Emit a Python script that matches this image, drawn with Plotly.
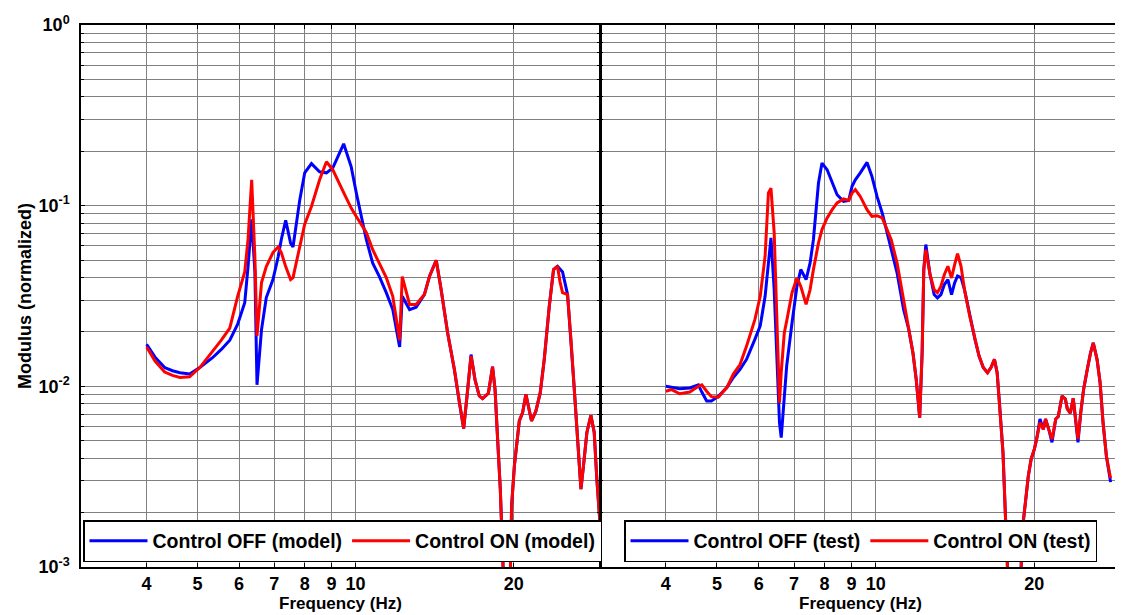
import plotly.graph_objects as go

# ---------------- data ----------------
# Left panel: model
freq_model = [4.0, 4.15, 4.33, 4.48, 4.63, 4.83, 5.05, 5.34, 5.55, 5.76, 5.96, 6.15, 6.24, 6.34,
              6.43, 6.49, 6.62, 6.76, 6.96, 7.12, 7.22, 7.36, 7.52, 7.60, 7.83, 8.0, 8.24,
              8.54, 8.80, 9.05, 9.49, 9.81, 10.03, 10.25, 10.48, 10.78, 11.1, 11.44, 11.77,
              12.13, 12.27, 12.67, 13.04, 13.52, 13.83, 14.24, 14.55, 14.97, 15.42, 15.76,
              16.06, 16.3, 16.59, 16.88, 17.2, 17.45, 17.9, 18.23, 18.43, 18.64, 18.86, 19.05,
              19.3, 19.6, 19.82, 20.06, 20.5, 20.8, 21.1, 21.63, 22.05, 22.47, 22.87, 23.38,
              23.82, 24.24, 24.5, 24.78, 25.33, 25.71, 26.09, 26.47, 26.86, 27.16, 27.57, 28.06,
              28.47, 28.8, 29.1, 29.6]
off_model = [0.0171, 0.0145, 0.0127, 0.0122, 0.0119, 0.0117, 0.0127, 0.0144, 0.0160, 0.0180,
             0.0220, 0.0290, 0.0460, 0.0840, 0.0430, 0.0102, 0.0206, 0.0310, 0.0390, 0.0520,
             0.0650, 0.0830, 0.0620, 0.0590, 0.1080, 0.1520, 0.1710, 0.1540, 0.1520, 0.1620,
             0.2200, 0.1640, 0.1180, 0.0870, 0.0650, 0.0480, 0.0405, 0.0330, 0.0266, 0.0165,
             0.0315, 0.0266, 0.0274, 0.0322, 0.0407, 0.0499, 0.0344, 0.0198, 0.0124, 0.00813,
             0.00584, 0.00884, 0.0150, 0.0109, 0.00884, 0.00855, 0.00915, 0.01285, 0.00962,
             0.0051, 0.0027, 0.0012, 0.0004, 0.0004, 0.00218, 0.00363, 0.00643, 0.00716,
             0.00903, 0.00643, 0.00731, 0.00923, 0.0141, 0.0278, 0.0443, 0.0462, 0.0443, 0.0430,
             0.0322, 0.0182, 0.00962, 0.0051, 0.0027, 0.00363, 0.00555, 0.00692, 0.00555,
             0.00306, 0.0020, 0.0010]
on_model = [0.0165, 0.0138, 0.0120, 0.0115, 0.0112, 0.0113, 0.0127, 0.0155, 0.0180, 0.0210,
            0.0314, 0.0430, 0.0650, 0.1390, 0.0520, 0.0190, 0.0375, 0.0460, 0.0550, 0.0590,
            0.0550, 0.0460, 0.0390, 0.0400, 0.0590, 0.0790, 0.0990, 0.1390, 0.1750, 0.1580,
            0.1180, 0.0970, 0.0870, 0.0790, 0.0710, 0.0570, 0.0480, 0.0400, 0.0315, 0.0180,
            0.0405, 0.0284, 0.0284, 0.0322, 0.0407, 0.0499, 0.0344, 0.0198, 0.0124, 0.00813,
            0.00584, 0.00884, 0.0147, 0.0109, 0.00884, 0.00855, 0.00915, 0.01285, 0.00962,
            0.0051, 0.0027, 0.0012, 0.0004, 0.0004, 0.00218, 0.00363, 0.00643, 0.00716,
            0.00903, 0.00643, 0.00731, 0.00923, 0.0141, 0.0278, 0.0443, 0.0462, 0.0380, 0.0330,
            0.0322, 0.0182, 0.00962, 0.0051, 0.0027, 0.00363, 0.00555, 0.00692, 0.00555,
            0.00306, 0.0020, 0.0010]

# Right panel: test
freq_test = [4.0, 4.1, 4.25, 4.44, 4.61, 4.68, 4.78, 4.88, 5.03, 5.22, 5.37, 5.53, 5.69, 5.90,
             6.04, 6.17, 6.26, 6.33, 6.42, 6.51, 6.57, 6.62, 6.71, 6.78, 6.94, 7.09, 7.21,
             7.38, 7.51, 7.62, 7.79, 7.91, 8.09, 8.27, 8.45, 8.69, 8.89, 9.02, 9.15, 9.35,
             9.63, 9.84, 10.06, 10.29, 10.51, 10.7, 10.98, 11.3, 11.55, 11.77, 11.94, 12.12,
             12.25, 12.34, 12.45, 12.68, 12.91, 13.1, 13.3, 13.5, 13.71, 13.93, 14.12, 14.3,
             14.52, 14.74, 15.08, 15.43, 15.71, 16.0, 16.3, 16.55, 16.8, 17.0, 17.18, 17.44,
             17.63, 17.78, 18.0, 18.7, 18.9, 19.08, 19.28, 19.48, 19.72, 20.0, 20.2, 20.5,
             20.8, 21.0, 21.3, 21.6, 21.96, 22.2, 22.57, 22.9, 23.1, 23.4, 23.7, 23.97, 24.2,
             24.5, 24.8, 25.2, 25.56, 25.87, 26.3, 26.65, 27.0, 27.4, 27.8, 27.9]
off_test = [0.0100, 0.0099, 0.0097, 0.0098, 0.0102, 0.0093, 0.0083, 0.0083, 0.0088, 0.00984,
            0.0112, 0.0124, 0.0141, 0.0182, 0.0216, 0.0315, 0.0503, 0.0663, 0.0343, 0.0119,
            0.0063, 0.0052, 0.0085, 0.0130, 0.0225, 0.0358, 0.0443, 0.0390, 0.0482, 0.0650,
            0.1334, 0.1720, 0.1580, 0.1330, 0.1150, 0.1056, 0.1070, 0.1280, 0.1390, 0.1520,
            0.1735, 0.1450, 0.1125, 0.0911, 0.0707, 0.0560, 0.0425, 0.0266, 0.0208, 0.0153,
            0.0109, 0.00671, 0.0153, 0.0443, 0.0609, 0.0416, 0.0322, 0.0309, 0.0322, 0.0366,
            0.0390, 0.0322, 0.0374, 0.0408, 0.0400, 0.0343, 0.0245, 0.0182, 0.0147, 0.0127,
            0.0119, 0.0127, 0.0141, 0.0119, 0.0080, 0.0043, 0.0019, 0.0009, 0.0004, 0.0004,
            0.0011, 0.00184, 0.00248, 0.00319, 0.00395, 0.00449, 0.0051, 0.0066, 0.00578,
            0.0066, 0.00578, 0.0049, 0.0066, 0.0068, 0.00884, 0.0085, 0.0075, 0.0071, 0.0086,
            0.0063, 0.0049, 0.0072, 0.0096, 0.0124, 0.0153, 0.0174, 0.0141, 0.0105, 0.0063,
            0.0041, 0.0032, 0.00295]
on_test = [0.0094, 0.0096, 0.0091, 0.0093, 0.0100, 0.0102, 0.0094, 0.00877, 0.0087, 0.00984,
           0.0117, 0.0132, 0.0167, 0.0234, 0.0315, 0.0525, 0.1175, 0.1250, 0.0707, 0.0182,
           0.00813, 0.0119, 0.0198, 0.0230, 0.0330, 0.0398, 0.0358, 0.0284, 0.0343, 0.0443,
           0.0622, 0.0737, 0.0855, 0.0950, 0.1035, 0.1090, 0.1070, 0.1175, 0.1226, 0.1125,
           0.0950, 0.0873, 0.0880, 0.0855, 0.0737, 0.0650, 0.0482, 0.0303, 0.0216, 0.0153,
           0.0109, 0.00671, 0.0153, 0.0443, 0.0570, 0.0416, 0.0343, 0.0330, 0.0358, 0.0416,
           0.0462, 0.0398, 0.0472, 0.0543, 0.0462, 0.0343, 0.0245, 0.0182, 0.0147, 0.0127,
           0.0119, 0.0127, 0.0141, 0.0119, 0.0080, 0.0043, 0.0019, 0.0009, 0.0004, 0.0004,
           0.0011, 0.00184, 0.00248, 0.00319, 0.00395, 0.00449, 0.0051, 0.0063, 0.00578,
           0.0066, 0.00578, 0.0051, 0.0066, 0.0068, 0.00884, 0.0085, 0.0075, 0.0071, 0.0086,
           0.0063, 0.0051, 0.0072, 0.0096, 0.0124, 0.0153, 0.0174, 0.0141, 0.0105, 0.0063,
           0.0041, 0.0032, 0.0031]

x_tick_vals = [4, 5, 6, 7, 8, 9, 10, 20]
x_tick_text = ["4", "5", "6", "7", "8", "9", "10", "20"]
y_tick_vals = [0.001, 0.01, 0.1, 1]
y_tick_text = ["10<sup>-3</sup>", "10<sup>-2</sup>", "10<sup>-1</sup>", "10<sup>0</sup>"]
y_minor_vals = [m * d for d in (0.001, 0.01, 0.1) for m in range(2, 10)]

FONT = "Liberation Sans, Arial, sans-serif"
BLUE = "#0000FF"
RED = "#FF0000"
GRID = "#808080"

fig = go.Figure()
fig.add_trace(go.Scatter(x=freq_model, y=off_model, mode="lines", name="Control OFF (model)",
                         line=dict(color=BLUE, width=3), xaxis="x", yaxis="y", legend="legend"))
fig.add_trace(go.Scatter(x=freq_model, y=on_model, mode="lines", name="Control ON (model)",
                         line=dict(color=RED, width=3), xaxis="x", yaxis="y", legend="legend"))
fig.add_trace(go.Scatter(x=freq_test, y=off_test, mode="lines", name="Control OFF (test)",
                         line=dict(color=BLUE, width=3), xaxis="x2", yaxis="y2", legend="legend2"))
fig.add_trace(go.Scatter(x=freq_test, y=on_test, mode="lines", name="Control ON (test)",
                         line=dict(color=RED, width=3), xaxis="x2", yaxis="y2", legend="legend2"))

# The page body adds an 8px margin, so the figure is sized to fit the window.
OFF = 8
W, H = 1123 - OFF, 615 - OFF
L, T = 81 - OFF, 25 - OFF
R = W - (1121 - OFF)
B = H - (567 - OFF)
pw = W - L - R
ph = H - T - B
split = (600 - 81) / pw

xaxis_common = dict(
    type="log", range=[0.4771, 1.4654], tickvals=x_tick_vals, ticktext=x_tick_text,
    ticks="inside", ticklen=4, tickcolor="black", showline=True, linecolor="black",
    linewidth=1.5, mirror="ticks", showgrid=True, gridcolor=GRID, gridwidth=1,
    zeroline=False, tickfont=dict(family=FONT, size=18, color="black", weight="bold"),
    ticklabelstandoff=0, automargin=False,
    title=dict(text="Frequency (Hz)", font=dict(family=FONT, size=17, color="black", weight="bold"),
               standoff=2),
)
yaxis_common = dict(
    type="log", range=[-3, 0], tickvals=y_tick_vals, ticks="inside", ticklen=4,
    tickcolor="black", showline=True, linecolor="black", mirror="ticks",
    showgrid=True, gridcolor=GRID, gridwidth=1, zeroline=False, automargin=False,
    minor=dict(tickvals=y_minor_vals, showgrid=True, gridcolor=GRID, gridwidth=1,
               ticks="inside", ticklen=3, tickcolor="black"),
)

legend_common = dict(
    orientation="h", y=1 - (520 - 25) / ph, xanchor="left", yanchor="top",
    bgcolor="white", bordercolor="black", borderwidth=1.5,
    itemwidth=58, font=dict(family=FONT, size=19.5, color="black", weight="bold"),
    traceorder="normal",
)

fig.update_layout(
    width=W, height=H,
    margin=dict(l=L, r=R, t=T, b=B, pad=0, autoexpand=False),
    paper_bgcolor="white", plot_bgcolor="white",
    font=dict(family=FONT, color="black"),
    xaxis=dict(domain=[0, split], anchor="y", **xaxis_common),
    xaxis2=dict(domain=[split, 1], anchor="y2", **xaxis_common),
    yaxis=dict(domain=[0, 1], anchor="x", ticktext=y_tick_text, showticklabels=True,
               linewidth=1.5,
               tickfont=dict(family=FONT, size=18, color="black", weight="bold"),
               ticklabelstandoff=6,
               title=dict(text="Modulus (normalized)",
                          font=dict(family=FONT, size=18, color="black", weight="bold"),
                          standoff=2),
               **yaxis_common),
    yaxis2=dict(domain=[0, 1], anchor="x2", showticklabels=False, linewidth=1,
                **yaxis_common),
    legend=dict(x=(83 - 81) / pw, **legend_common),
    legend2=dict(x=(624 - 81) / pw, **legend_common),
    showlegend=True,
)

fig.write_html("out.html")
